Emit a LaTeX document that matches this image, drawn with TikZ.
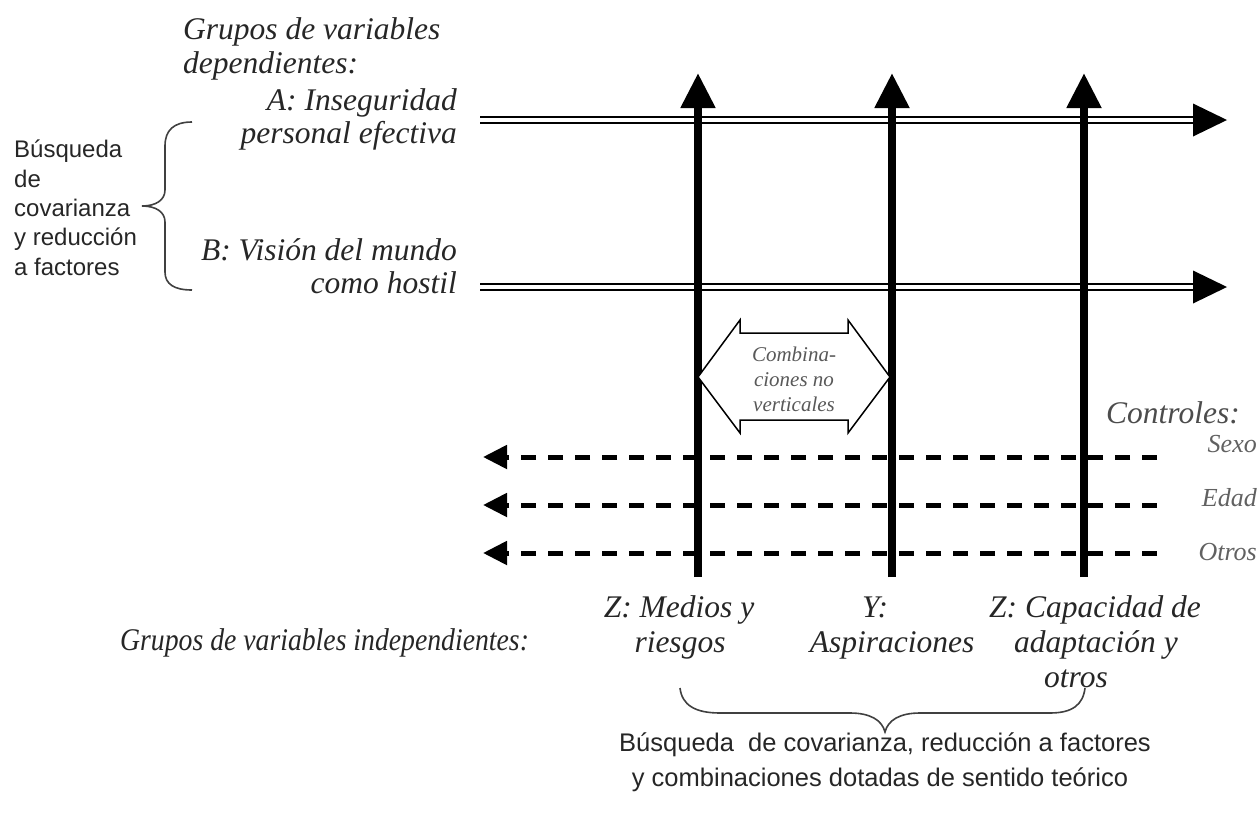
\documentclass[tikz,border=0pt]{standalone}
\usepackage{fontspec}
\setmainfont{Liberation Serif}
\newfontfamily\sansf{Liberation Sans}
\newfontfamily\condserif[FakeStretch=0.88]{Liberation Serif}
\usetikzlibrary{arrows.meta}
\begin{document}
\begin{tikzpicture}[x=1pt,y=-1pt,
  it/.style={inner sep=0pt, font=\fontsize{31.5}{35}\selectfont\itshape, text=black!85},
  itsm/.style={inner sep=0pt, font=\fontsize{26}{28}\selectfont\itshape, text=black!62},
  sn/.style={inner sep=0pt, font=\sansf\fontsize{24}{30}\selectfont, text=black!85},
  snb/.style={inner sep=0pt, font=\sansf\fontsize{25.5}{30}\selectfont, text=black!85},
  axisline/.style={line width=8pt, -{Triangle[length=35pt,width=33pt]}},
  dbl/.style={line width=2pt, double distance=4pt, draw=black},
  ctrl/.style={line width=5pt, dash pattern=on 15pt off 12pt, -{Triangle[length=24pt,width=23pt]}},
  brc/.style={line width=1.6pt, draw=black!75},
  combtext/.style={inner sep=0pt, align=center, font=\fontsize{21}{25}\selectfont\itshape, text=black!65},
]
\useasboundingbox (0,0) rectangle (1259,814);

% dependent variable labels
\node[it, anchor=base west] (g1) at (183,39) {Grupos de variables};
\node[it, anchor=base west] (g2) at (183,73) {dependientes:};
\node[it, anchor=base east] (a1) at (457,110) {A: Inseguridad};
\node[it, anchor=base east] (a2) at (457,143) {personal efectiva};
\node[it, anchor=base east] (b1) at (457,260) {B: Visión del mundo};
\node[it, anchor=base east] (b2) at (457,293) {como hostil};

% left sans block
\node[sn, anchor=base west] (s1) at (14,157) {Búsqueda};
\node[sn, anchor=base west] (s2) at (14,187) {de};
\node[sn, anchor=base west] (s3) at (14,216) {covarianza};
\node[sn, anchor=base west] (s4) at (14,245) {y reducción};
\node[sn, anchor=base west] (s5) at (14,275) {a factores};

% left brace
\draw[brc] (192,122) .. controls (174,122) and (165,130) .. (165,146) -- (165,190)
  .. controls (165,200) and (156,206) .. (142,206)
  .. controls (156,206) and (165,212) .. (165,222) -- (165,272)
  .. controls (165,284) and (174,290) .. (192,290);

% horizontal double arrows
\coordinate (A0) at (480,120); \coordinate (A1) at (1195,120); \coordinate (At) at (1227,120);
\coordinate (B0) at (480,287); \coordinate (B1) at (1195,287); \coordinate (Bt) at (1227,287);
\draw[dbl] (A0) -- (A1);
\fill (At) -- ++(-34,-16.5) -- ++(0,33) -- cycle;
\draw[dbl] (B0) -- (B1);
\fill (Bt) -- ++(-34,-16.5) -- ++(0,33) -- cycle;

% control dashed arrows
\foreach \y/\n in {457/c1,505/c2,553/c3}{
  \coordinate (\n r) at (1157,\y);
  \coordinate (\n l) at (483,\y);
  \draw[ctrl] (\n r) -- (\n l);
}

% vertical axes
\foreach \x/\n in {698/v1,892/v2,1084/v3}{
  \coordinate (\n b) at (\x,577);
  \coordinate (\n t) at (\x,73);
  \draw[axisline] (\n b) -- (\n t);
}

% double arrow (combinations)
\draw[line width=1.5pt, fill=white] (v1b |- 0,377) -- (740,320) -- (740,333) -- (848,333) -- (848,320)
  -- (890,377) -- (848,433) -- (848,420) -- (740,420) -- (740,433) -- cycle;
\node[combtext] (comb) at (794,379) {Combina-\\ciones no\\verticales};

% controls labels
\node[it, anchor=base east, text=black!70] (ctl) at (1240,423) {Controles:};
\node[itsm, anchor=base east] (sx) at (1257,452) {Sexo};
\node[itsm, anchor=base east] (ed) at (1257,506) {Edad};
\node[itsm, anchor=base east] (ot) at (1257,560) {Otros};

% independent variable labels
\node[it, anchor=base west, font=\condserif\fontsize{31.5}{35}\selectfont\itshape] (gi) at (120,650) {Grupos de variables independientes:};
\node[it, anchor=base] (zm1) at (679,617) {Z: Medios y};
\node[it, anchor=base] (zm2) at (680,652) {riesgos};
\node[it, anchor=base] (y1) at (875,617) {Y:};
\node[it, anchor=base] (y2) at (892,652) {Aspiraciones};
\node[it, anchor=base] (zc1) at (1095,617) {Z: Capacidad de};
\node[it, anchor=base] (zc2) at (1096,652) {adaptación y};
\node[it, anchor=base] (zc3) at (1076,687) {otros};

% bottom brace
\draw[brc] (680,688) .. controls (682,705) and (695,713) .. (720,713) -- (850,713)
  .. controls (870,713) and (882,720) .. (885,732)
  .. controls (888,720) and (900,713) .. (920,713) -- (1050,713)
  .. controls (1072,713) and (1083,705) .. (1085,688);

\node[snb, anchor=base] (bq1) at (885,751) {Búsqueda\ \ de covarianza, reducción a factores};
\node[snb, anchor=base] (bq2) at (880,786) {y combinaciones dotadas de sentido teórico};
\end{tikzpicture}
\end{document}
